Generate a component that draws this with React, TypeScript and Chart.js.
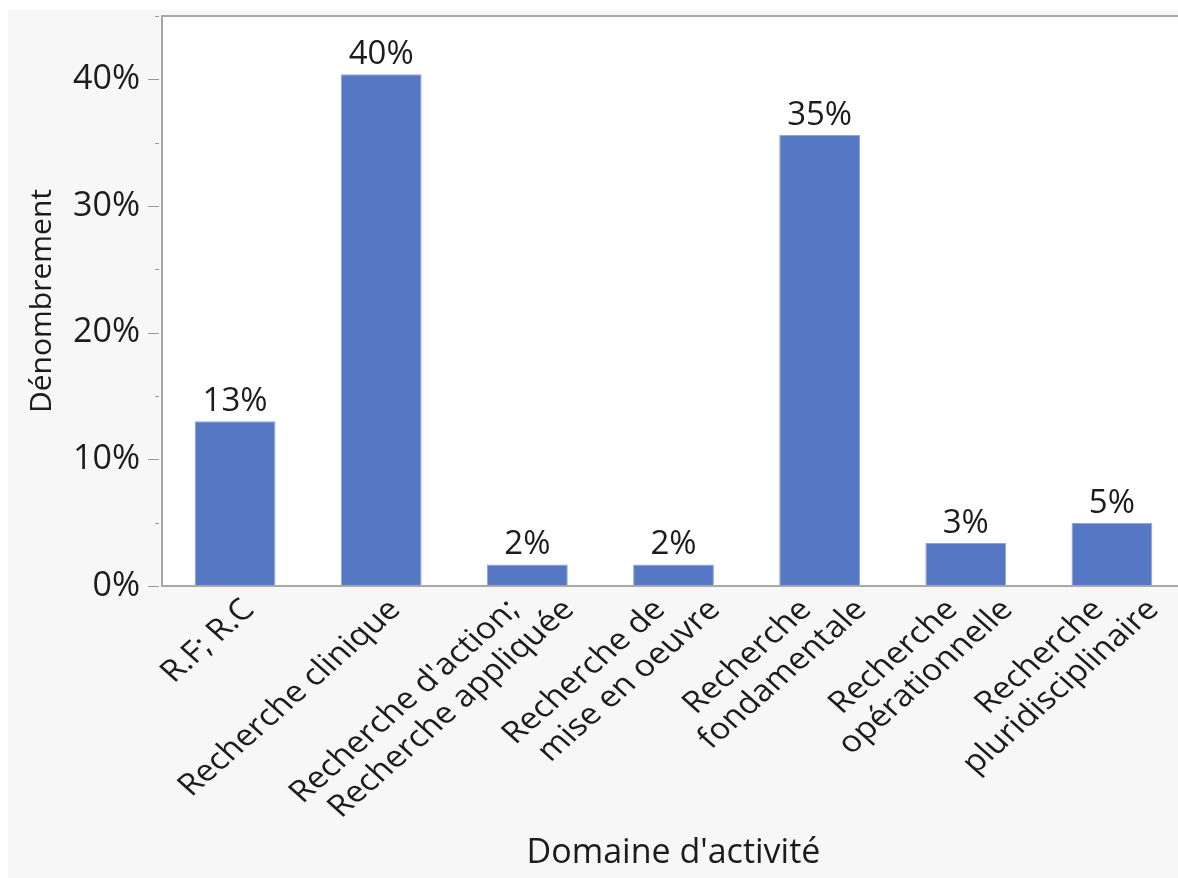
import React, { useEffect, useRef } from "react";
import { Chart, registerables } from "chart.js";

Chart.register(...registerables);

const categories: string[][] = [
  ["R.F; R.C"],
  ["Recherche clinique"],
  ["Recherche d'action;", "Recherche appliquée"],
  ["Recherche de", "mise en oeuvre"],
  ["Recherche", "fondamentale"],
  ["Recherche", "opérationnelle"],
  ["Recherche", "pluridisciplinaire"],
];
const percentages: number[] = [13.0, 40.4, 1.7, 1.7, 35.6, 3.4, 5.0];
const valueLabels: string[] = ["13%", "40%", "2%", "2%", "35%", "3%", "5%"];
const yMajorTicks: number[] = [0, 10, 20, 30, 40];
const yAxisTitle = "Dénombrement";
const xAxisTitle = "Domaine d'activité";

const FONT = "'Open Sans', 'Noto Sans', sans-serif";
const TEXT = "#1c1c1c";
const BAR = "#5677c4";
const FRAME = "#a8a8a8";

const W = 1190;
const H = 868;

export default function App() {
  const ref = useRef<HTMLCanvasElement | null>(null);

  useEffect(() => {
    const canvas = ref.current;
    if (!canvas) return;

    const decor = {
      id: "decor",
      beforeDraw(chart: any) {
        const { ctx, chartArea } = chart;
        ctx.save();
        ctx.fillStyle = "#ffffff";
        ctx.fillRect(chartArea.left, chartArea.top, chartArea.right - chartArea.left, chartArea.bottom - chartArea.top);
        ctx.restore();
      },
      afterDatasetsDraw(chart: any) {
        const { ctx, chartArea } = chart;
        const yScale = chart.scales.y;
        const xScale = chart.scales.x;
        ctx.save();
        // frame
        ctx.strokeStyle = FRAME;
        ctx.lineWidth = 2;
        ctx.strokeRect(chartArea.left, chartArea.top, chartArea.right - chartArea.left, chartArea.bottom - chartArea.top);
        // y tick marks
        ctx.strokeStyle = "#9a9a9a";
        ctx.lineWidth = 1;
        yScale.ticks.forEach((t: any) => {
          const y = Math.round(yScale.getPixelForValue(t.value)) + 0.5;
          const major = yMajorTicks.includes(t.value);
          ctx.beginPath();
          ctx.moveTo(chartArea.left - (major ? 14 : 7), y);
          ctx.lineTo(chartArea.left - 3, y);
          ctx.stroke();
        });
        // value labels
        ctx.fillStyle = TEXT;
        ctx.font = `33px ${FONT}`;
        ctx.textAlign = "center";
        ctx.textBaseline = "alphabetic";
        const meta = chart.getDatasetMeta(0);
        meta.data.forEach((bar: any, i: number) => {
          ctx.fillText(valueLabels[i], bar.x, bar.y - 10);
        });
        // x category labels (rotated 45°, slightly widened like the source)
        ctx.textAlign = "right";
        ctx.textBaseline = "middle";
        ctx.font = `30px ${FONT}`;
        categories.forEach((lines, i) => {
          const cx = xScale.getPixelForValue(i);
          const n = lines.length;
          lines.forEach((line, j) => {
            const ax = cx + 14 + (j - (n - 1) / 2) * 55;
            const ay = chartArea.bottom + 19;
            ctx.save();
            ctx.translate(ax, ay);
            ctx.scale(1.13, 1);
            ctx.rotate(-Math.PI / 4);
            ctx.fillText(line, 0, 0);
            ctx.restore();
          });
        });
        ctx.restore();
      },
    };

    const chart = new Chart(canvas, {
      type: "bar",
      data: {
        labels: categories.map((c) => c.join(" ")),
        datasets: [
          {
            data: percentages,
            backgroundColor: BAR,
            borderColor: "#8fa4d8",
            borderWidth: 1,
            barPercentage: 0.553,
            categoryPercentage: 1,
          },
        ],
      },
      options: {
        responsive: false,
        animation: false,
        devicePixelRatio: 1,
        layout: { padding: { top: 6, right: 13, left: 0, bottom: 0 } },
        plugins: {
          legend: { display: false },
          tooltip: { enabled: false },
        },
        scales: {
          x: {
            type: "category",
            grid: { display: false, drawTicks: false },
            border: { display: false },
            ticks: { display: false },
            title: {
              display: true,
              text: xAxisTitle,
              color: TEXT,
              font: { family: FONT, size: 34 },
              padding: { top: 0, bottom: 4 },
            },
            afterFit: (s: any) => {
              s.height = 292;
              s.paddingLeft = 0;
              s.paddingRight = 0;
            },
          },
          y: {
            min: 0,
            max: 45,
            grid: { display: false, drawTicks: false },
            border: { display: false },
            ticks: {
              stepSize: 5,
              autoSkip: false,
              padding: 22,
              color: TEXT,
              font: { family: FONT, size: 34 },
              callback: (v: any) => (yMajorTicks.includes(Number(v)) ? `${v}%` : ""),
            },
            title: {
              display: true,
              text: yAxisTitle,
              color: TEXT,
              font: { family: FONT, size: 30 },
              padding: { top: 16, bottom: 0 },
            },
            afterFit: (s: any) => {
              s.width = 154;
              s.paddingTop = 0;
              s.paddingBottom = 0;
            },
          },
        },
      },
      plugins: [decor],
    });

    return () => chart.destroy();
  }, []);

  return (
    <div
      style={{
        position: "fixed",
        left: 8,
        top: 10,
        width: W,
        height: H,
        background: "#f7f7f7",
      }}
    >
      <canvas ref={ref} width={W} height={H} style={{ display: "block", width: W, height: H }} />
    </div>
  );
}
